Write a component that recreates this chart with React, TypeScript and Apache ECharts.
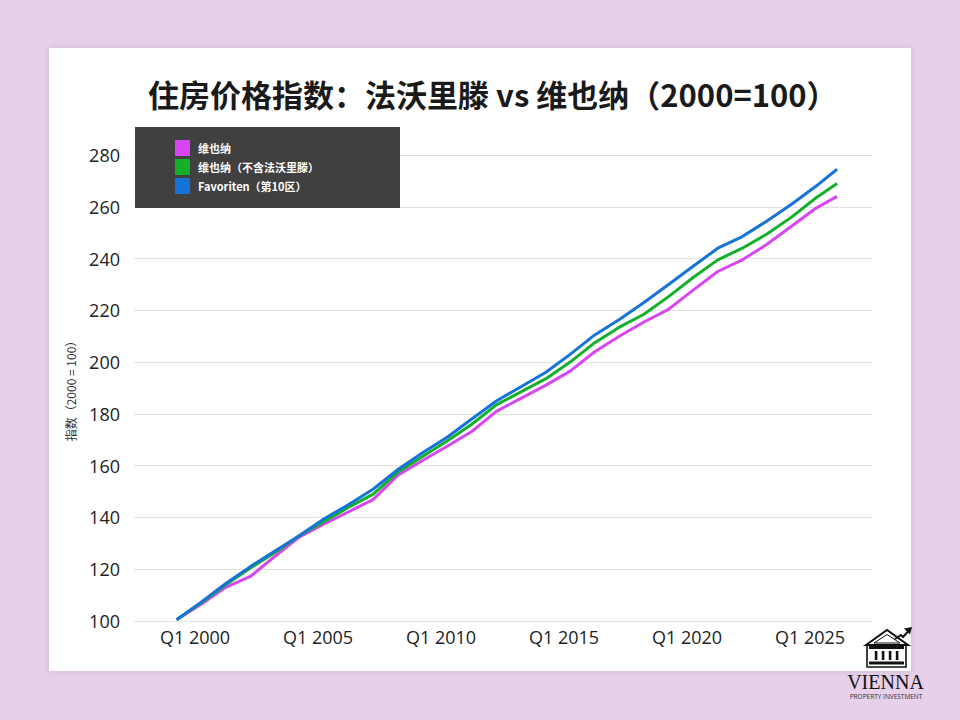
import React, { useEffect, useRef } from "react";
import * as echarts from "echarts";

const titleText = "住房价格指数：法沃里滕 vs 维也纳（2000=100）";
const yAxisName = "指数（2000 = 100）";
const seriesNames = ["维也纳", "维也纳（不含法沃里滕）", "Favoriten（第10区）"];
const seriesColors = ["#d846f2", "#14b02b", "#1673d8"];

// time positions (decimal years) of the sampled points
const years = [
  1999.25, 2000.25, 2001.25, 2002.25, 2003.25, 2004.25, 2005.25, 2006.25, 2007.25,
  2008.25, 2009.25, 2010.25, 2011.25, 2012.25, 2013.25, 2014.25, 2015.25, 2016.25,
  2017.25, 2018.25, 2019.25, 2020.25, 2021.25, 2022.25, 2023.25, 2024.25, 2025.25, 2026.1,
];

const vienna = [
  100.5, 106.5, 113, 117.2, 125, 132.5, 137.5, 142.2, 147, 156.3, 162, 167.5, 173.2, 181,
  186, 191, 196.5, 204, 210, 215.5, 220.4, 227.8, 235, 239.5, 245.5, 252.5, 259.5, 264,
];
const viennaExFav = [
  100.5, 107, 114, 120.5, 126.5, 133, 138.5, 144, 149, 157.5, 163.5, 169.5, 176, 183.5,
  188.5, 193.5, 200, 207.5, 213.5, 218.5, 225.3, 232.7, 239.5, 244, 249.5, 256, 263.5, 269,
];
const favoriten = [
  100.5, 107.3, 114.5, 121, 127, 133, 139.5, 145, 151, 158.5, 165, 171, 178, 185, 190.5,
  196, 203, 210.5, 216.5, 223, 230, 237, 244, 248.5, 254.5, 261, 268, 274.5,
];

const xTickYears = [2000, 2005, 2010, 2015, 2020, 2025];
const xTickPrefix = "Q1 ";

const FONT = "'Open Sans', 'Noto Sans CJK SC', sans-serif";

export default function App() {
  const ref = useRef<HTMLDivElement>(null);

  useEffect(() => {
    document.body.style.margin = "0";
    if (!ref.current) return;
    const chart = echarts.init(ref.current, null, { renderer: "svg" });

    const seriesData = [vienna, viennaExFav, favoriten];

    chart.setOption({
      animation: false,
      backgroundColor: "#e6d0ea",
      textStyle: { fontFamily: FONT },
      title: {
        text: titleText,
        left: 143,
        top: 73,
        textStyle: {
          fontSize: 31,
          fontWeight: "bold",
          color: "#1a1a1a",
          fontFamily: "'Noto Sans CJK SC', 'Open Sans', sans-serif",
        },
      },
      graphic: [
        {
          type: "rect",
          z: -10,
          shape: { x: 49, y: 48, width: 862, height: 623 },
          style: {
            fill: "#ffffff",
            shadowBlur: 6,
            shadowColor: "rgba(0,0,0,0.12)",
          },
        },
        {
          type: "rect",
          z: 3,
          shape: { x: 135, y: 127, width: 265, height: 81 },
          style: { fill: "#404040" },
        },
        // logo icon
        {
          type: "group",
          z: 5,
          children: [
            {
              type: "polygon",
              shape: { points: [[866, 645], [887, 630], [908, 645]] },
              style: { fill: "none", stroke: "#111", lineWidth: 2 },
            },
            {
              type: "polygon",
              shape: { points: [[874, 643], [887, 634.5], [900, 643]] },
              style: { fill: "none", stroke: "#111", lineWidth: 1 },
            },
            {
              type: "polyline",
              shape: { points: [[895, 639], [901, 635], [903, 637], [909, 630.5]] },
              style: { fill: "none", stroke: "#111", lineWidth: 2 },
            },
            {
              type: "polygon",
              shape: { points: [[912, 627], [904, 628.5], [910, 634.5]] },
              style: { fill: "#111" },
            },
            {
              type: "rect",
              shape: { x: 869, y: 646, width: 35, height: 3 },
              style: { fill: "#111" },
            },
            {
              type: "rect",
              shape: { x: 867, y: 645, width: 39, height: 22 },
              style: { fill: "none", stroke: "#111", lineWidth: 1.6 },
            },
            ...[876, 883, 890, 897].map((cx) => ({
              type: "rect",
              shape: { x: cx - 1.2, y: 651, width: 2.6, height: 9 },
              style: { fill: "#111" },
            })),
            {
              type: "rect",
              shape: { x: 869, y: 661.5, width: 35, height: 3 },
              style: { fill: "#111" },
            },
          ],
        },
        {
          type: "text",
          z: 5,
          x: 885.5,
          y: 672,
          style: {
            text: "VIENNA",
            fill: "#111",
            font: "20px 'Liberation Serif', 'DejaVu Serif', serif",
            align: "center",
            verticalAlign: "top",
          },
        },
        {
          type: "text",
          z: 5,
          x: 886,
          y: 692.5,
          style: {
            text: "PROPERTY INVESTMENT",
            fill: "#333",
            font: "6.5px 'Open Sans', sans-serif",
            align: "center",
            verticalAlign: "top",
          },
        },
      ],
      legend: {
        orient: "vertical",
        left: 175,
        top: 140,
        padding: 0,
        itemWidth: 15,
        itemHeight: 16,
        itemGap: 3,
        icon: "rect",
        z: 6,
        data: seriesNames,
        textStyle: {
          color: "#ffffff",
          fontSize: 11,
          fontWeight: "bold",
          padding: [0, 0, 0, 3],
          fontFamily: "'Noto Sans CJK SC', 'Open Sans', sans-serif",
        },
      },
      grid: { left: 134, right: 88, top: 155, bottom: 99 },
      xAxis: {
        type: "value",
        min: 1997.52,
        max: 2027.52,
        splitLine: { show: false },
        axisLine: { show: false },
        axisTick: { show: false },
        axisLabel: {
          customValues: xTickYears,
          formatter: (v: number) => xTickPrefix + Math.round(v),
          fontSize: 18,
          color: "#222",
          margin: 7,
          fontFamily: FONT,
        },
      },
      yAxis: {
        type: "value",
        min: 100,
        max: 280,
        interval: 20,
        name: yAxisName,
        nameLocation: "middle",
        nameRotate: 90,
        nameGap: 58,
        nameTextStyle: {
          fontSize: 12,
          color: "#333",
          fontFamily: "'Noto Sans CJK SC', sans-serif",
        },
        axisLine: { show: false },
        axisTick: { show: false },
        axisLabel: { fontSize: 18, color: "#222", margin: 14, fontFamily: FONT },
        splitLine: { lineStyle: { color: "#e2e2e2", width: 1.2 } },
      },
      series: seriesNames.map((name, i) => ({
        name,
        type: "line",
        showSymbol: false,
        symbol: "none",
        color: seriesColors[i],
        lineStyle: { width: 3, color: seriesColors[i] },
        data: years.map((y, k) => [y, seriesData[i][k]]),
      })),
    });

    return () => chart.dispose();
  }, []);

  return <div ref={ref} style={{ width: 960, height: 720 }} />;
}
